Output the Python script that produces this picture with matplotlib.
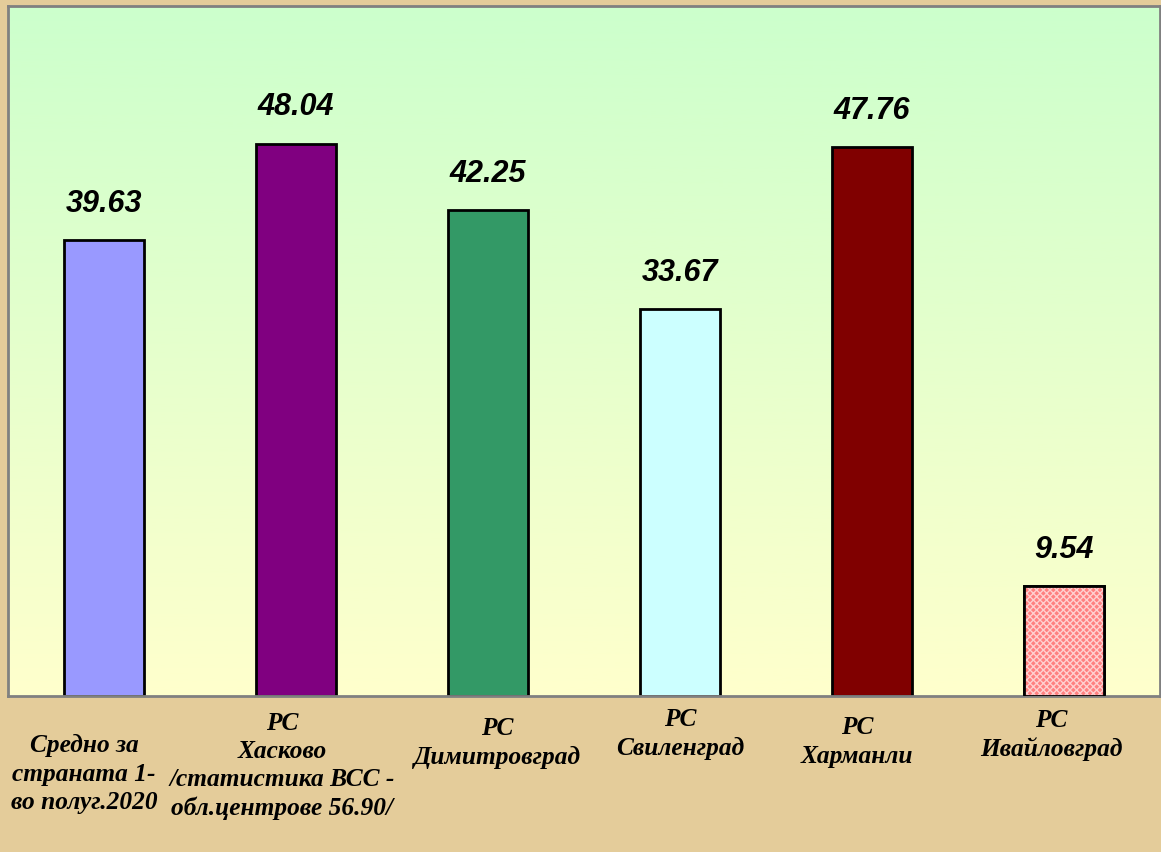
import numpy as np
import matplotlib
matplotlib.use("Agg")
import matplotlib.pyplot as plt

# data
categories = ["Средно за\nстраната 1-\nво полуг.2020",
              "РС\nХасково\n/статистика ВСС -\nобл.центрове 56.90/",
              "РС\nДимитровград",
              "РС\nСвиленград",
              "РС\nХарманли",
              "РС\nИвайловград"]
values = [39.63, 48.04, 42.25, 33.67, 47.76, 9.54]
colors = ["#9999FF", "#800080", "#339966", "#CCFFFF", "#800000", "#FF9999"]
label_x = [84, 282, 497, 680, 857, 1051]   # pixel centre of each category label
label_y = [774, 766, 743, 734, 742, 735]

W, H = 1161, 853
fig = plt.figure(figsize=(W / 100, H / 100), dpi=100, facecolor="#E4CC9A")
ax = fig.add_axes([8 / W, (H - 697) / H, 1152 / W, 690 / H])

# green -> pale yellow gradient behind the bars
grad = np.linspace(0, 1, 256).reshape(-1, 1)
top = np.array([0xCC, 0xFF, 0xCC]) / 255
bot = np.array([0xFF, 0xFF, 0xCC]) / 255
img = top[None, None, :] * (1 - grad[:, :, None]) + bot[None, None, :] * grad[:, :, None]
ax.imshow(img, extent=[0, 1, 0, 1], transform=ax.transAxes, aspect="auto", zorder=0)

x = np.arange(len(values))
bars = ax.bar(x, values, width=80 / 192, color=colors, edgecolor="black", linewidth=2, zorder=2)
# patterned last bar
ax.bar(x[-1], values[-1], width=80 / 192, color="#FF8080", edgecolor="#FFD0D0",
       hatch="xxxxx", linewidth=0, zorder=3)
ax.bar(x[-1], values[-1], width=80 / 192, fill=False, edgecolor="black", linewidth=2, zorder=4)

for xi, v in zip(x, values):
    ax.annotate(f"{v:.2f}", (xi, v), xytext=(0, 21), textcoords="offset points",
                ha="center", va="baseline", fontsize=22, fontweight="bold",
                fontstyle="italic", family="Liberation Sans", zorder=5)

ax.set_xlim(-0.5, 5.5)
ax.set_ylim(0, 60)
ax.set_xticks([])
ax.set_yticks([])
for s in ax.spines.values():
    s.set_color("#808080")
    s.set_linewidth(2)

for lab, px, py in zip(categories, label_x, label_y):
    fig.text(px / W, 1 - py / H, lab, ha="center", va="center", ma="center",
             fontsize=18.3, fontweight="bold", fontstyle="italic",
             family="Liberation Serif", linespacing=1.28)

fig.savefig("out.png", dpi=100, facecolor=fig.get_facecolor())
